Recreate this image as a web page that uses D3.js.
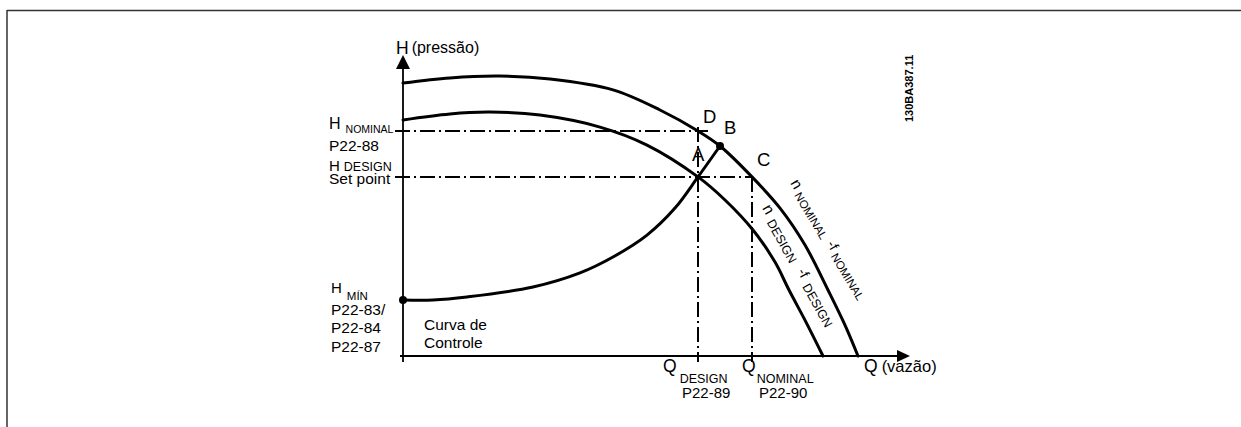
<!DOCTYPE html>
<html>
<head>
<meta charset="utf-8">
<script src="https://cdn.jsdelivr.net/npm/d3@7"></script>
<style>
  html, body { margin: 0; padding: 0; background: #fff; }
  svg { display: block; font-family: "Liberation Sans", Arial, sans-serif; }
  text { fill: #000; }
</style>
</head>
<body>
<svg id="chart" width="1241" height="427"></svg>
<script>
// Pump curves: flow Q (relative units) vs head H (relative units)
const pumpNominalQ = [0, 9.4, 19.4, 29.4, 42.0, 51.4, 59.0, 63.4, 69.8, 75.4, 80.4, 85.0, 88.4, 91.0];
const pumpNominalH = [91.0, 92.7, 93.3, 92.3, 88.7, 82.0, 75.0, 70.0, 59.7, 49.3, 37.0, 22.0, 10.3, 0];

const pumpDesignQ = [0, 9.4, 17.4, 27.4, 39.4, 48.8, 59.0, 64.4, 70.0, 74.4, 77.2, 80.6, 84.0];
const pumpDesignH = [78.7, 80.7, 81.3, 80.3, 76.3, 70.3, 59.7, 52.0, 42.0, 31.3, 22.0, 11.3, 0];

const controlQ = [0, 6.0, 12.8, 26.0, 35.4, 42.0, 48.8, 54.4, 59.0, 63.4];
const controlH = [18.7, 18.7, 19.7, 23.0, 27.7, 33.0, 40.3, 49.3, 59.7, 70.0];

// Operating references
const hNominal = 75.0;
const hDesign = 59.7;
const hMin = 18.7;
const qDesign = 59.0;
const qNominal = 69.8;
const pointB = [63.4, 70.0];

const svg = d3.select("#chart");

const x = d3.scaleLinear().domain([0, 100]).range([403, 903]);
const y = d3.scaleLinear().domain([0, 100]).range([356, 56]);

const zip = (qs, hs) => qs.map((q, i) => [q, hs[i]]);

// Page frame (top and left rules)
svg.append("line").attr("x1", 7).attr("y1", 10.5).attr("x2", 1241).attr("y2", 10.5)
  .attr("stroke", "#333").attr("stroke-width", 1.5);
svg.append("line").attr("x1", 7).attr("y1", 10).attr("x2", 7).attr("y2", 427)
  .attr("stroke", "#333").attr("stroke-width", 1.5);

// Axes with arrowheads
const x0 = x(0), y0 = y(0);
svg.append("line").attr("x1", x0 - 3).attr("y1", y0).attr("x2", 900).attr("y2", y0)
  .attr("stroke", "#000").attr("stroke-width", 1.8);
svg.append("line").attr("x1", x0).attr("y1", y0 + 6).attr("x2", x0).attr("y2", 64)
  .attr("stroke", "#000").attr("stroke-width", 1.8);
svg.append("path").attr("d", `M${x0},55 L${x0 - 7},69 L${x0 + 7},69 Z`).attr("fill", "#000");
svg.append("path").attr("d", `M910,${y0} L897,${y0 - 6} L897,${y0 + 6} Z`).attr("fill", "#000");

// Dash-dot reference lines
const dash = "15,4,2,4";
const ref = (x1, y1, x2, y2) => svg.append("line")
  .attr("x1", x1).attr("y1", y1).attr("x2", x2).attr("y2", y2)
  .attr("stroke", "#000").attr("stroke-width", 1.3).attr("stroke-dasharray", dash)
  .attr("shape-rendering", "crispEdges");
ref(x0 - 8, y(hNominal), x(qDesign) + 10, y(hNominal));
ref(x0 - 8, y(hDesign), x(qNominal), y(hDesign));
ref(x(qDesign), y(hNominal) - 4, x(qDesign), y0 + 6);
ref(x(qNominal), y(hDesign), x(qNominal), y0 + 6);

// Curves
const line = d3.line().x(d => x(d[0])).y(d => y(d[1])).curve(d3.curveCatmullRom.alpha(0.5));
const drawCurve = (pts) => svg.append("path").attr("d", line(pts))
  .attr("fill", "none").attr("stroke", "#000").attr("stroke-width", 3).attr("stroke-linecap", "round");
drawCurve(zip(pumpNominalQ, pumpNominalH));
drawCurve(zip(pumpDesignQ, pumpDesignH));
drawCurve(zip(controlQ, controlH));

// Marked points
svg.append("circle").attr("cx", x(0)).attr("cy", y(hMin)).attr("r", 4).attr("fill", "#000");
svg.append("circle").attr("cx", x(pointB[0])).attr("cy", y(pointB[1])).attr("r", 4).attr("fill", "#000");

// Text helper: array of [text, size, dx, dy]
function label(xp, yp, parts, extra) {
  const t = svg.append("text").attr("x", xp).attr("y", yp);
  parts.forEach(p => {
    t.append("tspan").text(p[0]).attr("font-size", p[1] + "px")
      .attr("dx", p[2] || 0).attr("dy", p[3] || 0);
  });
  if (extra) extra(t);
  return t;
}

// Axis titles
label(x0 - 7, 54, [["H", 17.5], ["(pressão)", 16, 3, -1]]);
label(864, 372, [["Q", 17.5], ["(vazão)", 16.5, 4, 0]]);

// Left-hand labels
const lx = x0 - 74;
label(lx, y(hNominal) - 2, [["H", 16], ["NOMINAL", 10.5, 5, 4]]);
label(lx, y(hNominal) + 20, [["P22-88", 15.5]]);
label(lx, y(hDesign) - 6, [["H", 15], ["DESIGN", 12.5, 4, 0]]);
label(lx, y(hDesign) + 7, [["Set point", 15.5]]);
label(lx + 2, y(hMin) - 7, [["H", 15], ["MÍN", 11.5, 5, 7]]);
label(lx + 2, y(hMin) + 15, [["P22-83/", 15.5]]);
label(lx + 2, y(hMin) + 33, [["P22-84", 15.5]]);
label(lx + 2, y(hMin) + 52, [["P22-87", 15.5]]);
label(x0 + 21, 330, [["Curva de", 15.5]]);
label(x0 + 21, 348, [["Controle", 15.5]]);

// Bottom labels
label(x(qDesign) - 35, y0 + 16, [["Q", 17.5], ["DESIGN", 12.5, 3, 11]]);
label(x(qDesign) - 16, y0 + 42, [["P22-89", 15]]);
label(x(qNominal) - 10, y0 + 16, [["Q", 17.5], ["NOMINAL", 12.5, 1, 11]]);
label(x(qNominal) + 7, y0 + 42, [["P22-90", 15]]);

// Point letters
label(x(qDesign) + 5, y(hNominal) - 8, [["D", 18.5]]);
label(x(pointB[0]) + 4, y(pointB[1]) - 12, [["B", 18.5]]);
label(x(qDesign) - 6, y(hDesign) - 16, [["A", 18.5]]);
label(x(qNominal) + 5, y(hDesign) - 11, [["C", 18.5]]);

// Curve names, along the curves
label(0, 0, [["n", 15.5], ["NOMINAL", 11.5, 4, 3], ["-f", 14, 6, -3], ["NOMINAL", 11.5, 4, 3]],
  t => t.attr("transform", "translate(790,183) rotate(59)"));
label(0, 0, [["n", 15.5], ["DESIGN", 12.5, 6, 3], ["-f", 14, 10, -3], ["DESIGN", 12.5, 7, 3]],
  t => t.attr("transform", "translate(762,208) rotate(61)"));

// Drawing number
svg.append("text").attr("transform", "translate(913,122) rotate(-90)")
  .attr("font-size", "11px").attr("font-weight", "bold").text("130BA387.11");
</script>
</body>
</html>
